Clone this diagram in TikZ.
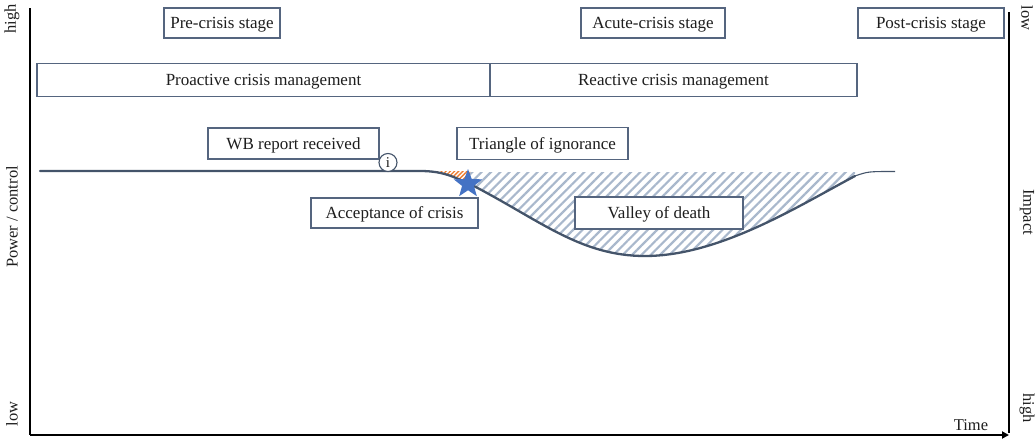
\documentclass[tikz,border=0pt]{standalone}
\usepackage{fontspec}
\setmainfont{Liberation Serif}
\usetikzlibrary{patterns.meta,shapes.geometric,arrows.meta}
\definecolor{boxc}{HTML}{55657F}
\definecolor{curvec}{HTML}{44546A}
\definecolor{hatchc}{HTML}{A9B8CC}
\definecolor{orangec}{HTML}{ED7D31}
\definecolor{starc}{HTML}{4472C4}
\definecolor{txtc}{HTML}{1E1E1E}
\tikzset{
  stagebox/.style={draw=boxc, line width=1.2pt, fill=white, text=txtc,
    minimum height=30pt, inner sep=0pt, text height=15pt, text depth=4pt,
    font=\fontsize{17}{20}\selectfont},
  axislabel/.style={text=txtc, inner sep=0pt, font=\fontsize{16.5}{19}\selectfont},
  axisline/.style={line width=2.9pt, black},
}
\begin{document}
\begin{tikzpicture}[x=1pt,y=-1pt]
\useasboundingbox (0,0) rectangle (1036,439);

% hatched valley between the baseline and the curve
\fill[pattern={Lines[angle=45,distance=6.6pt,line width=2.2pt]}, pattern color=hatchc]
  (470,172) -- (470,184)
  .. controls (540,220) and (580,256) .. (645,256)
  .. controls (720,256) and (800,205) .. (855,176)
  -- (855,172) -- cycle;

% triangle of ignorance
\fill[pattern={Lines[angle=45,distance=3pt,line width=1.3pt]}, pattern color=orangec]
  (428,171) .. controls (445,171.5) and (455,178) .. (470,184) -- (470,171) -- cycle;

% power / control curve
\draw[curvec, line width=2.3pt, line cap=round]
  (40,171) -- (420,171)
  .. controls (445,171) and (455,178) .. (470,184)
  .. controls (540,220) and (580,256) .. (645,256)
  .. controls (720,256) and (800,205) .. (855,176);
\draw[curvec, line width=1.1pt]
  (855,176) .. controls (868,171.5) .. (895,171.5);

% axes
\coordinate (ytop) at (30,8);
\coordinate (origin) at (30,435);
\coordinate (xend) at (1009,435);
\coordinate (rtop) at (1009,12);
\draw[axisline] (ytop) -- (origin);
\draw[axisline, -{Triangle[length=7pt,width=7pt]}] (origin) -- (xend);
\draw[axisline] (rtop) -- (1009,433);

% axis labels
\node[axislabel, rotate=90] (lhigh) at (12,19) {high};
\node[axislabel, rotate=90] (lpower) at (12,217) {Power / control};
\node[axislabel, rotate=90] (llow) at (12,414) {low};
\node[axislabel, rotate=-90] (rlow) at (1027,18) {low};
\node[axislabel, rotate=-90] (rimpact) at (1027,212) {Impact};
\node[axislabel, rotate=-90] (rhigh) at (1027,408) {high};
\node[axislabel] (time) at (971,425) {Time};

% stages
\node[stagebox, minimum width=116pt] (pre) at (222,23) {Pre-crisis stage};
\node[stagebox, minimum width=144pt] (acute) at (653,23) {Acute-crisis stage};
\node[stagebox, minimum width=146pt] (post) at (931,23) {Post-crisis stage};

% management phases
\node[stagebox, minimum width=453pt, minimum height=33pt] (proactive) at (263.5,80) {Proactive crisis management};
\node[stagebox, minimum width=367pt, minimum height=33pt] (reactive) at (673.5,80) {Reactive crisis management};

% events
\node[stagebox, minimum width=171pt, minimum height=31pt] (wb) at (293.5,143.5) {WB report received};
\node[stagebox, minimum width=171pt, minimum height=32pt] (ignorance) at (542.5,143.5) {Triangle of ignorance};
\node[stagebox, minimum width=167pt] (acceptance) at (394.5,213) {Acceptance of crisis};
\node[stagebox, minimum width=168pt, minimum height=32pt] (valley) at (659,213) {Valley of death};

% info marker on the curve
\node[circle, draw=curvec, line width=1.1pt, fill=white, minimum size=18pt, inner sep=0pt,
      text=txtc, font=\fontsize{15}{15}\selectfont] (info) at (388,162.5) {i};

% moment of acceptance
\node[star, star points=5, star point ratio=2.4, fill=starc, minimum size=30pt, inner sep=0pt] (accept) at (468,184) {};
\end{tikzpicture}
\end{document}
